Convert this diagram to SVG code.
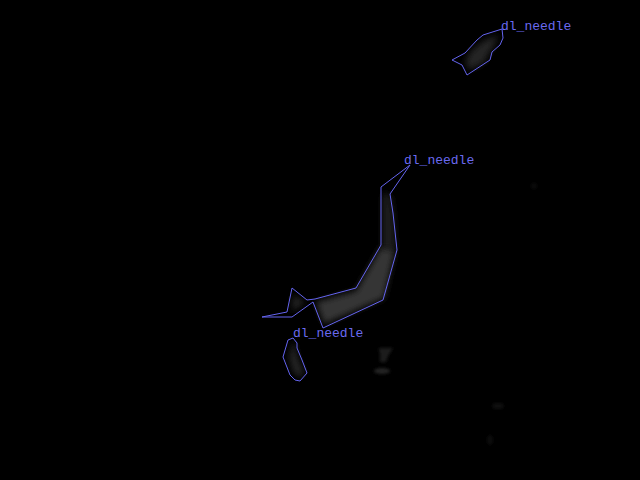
<svg xmlns="http://www.w3.org/2000/svg" width="640" height="480" viewBox="0 0 640 480">
<defs>
<filter id="blur" x="-30%" y="-30%" width="160%" height="160%"><feGaussianBlur stdDeviation="3"/></filter>
<filter id="blur2" x="-50%" y="-50%" width="200%" height="200%"><feGaussianBlur stdDeviation="1.8"/></filter>
<style>
.outline{fill:none;stroke:#6464f0;stroke-width:1}
.lbl{font-family:"Liberation Mono","DejaVu Sans Mono",monospace;font-size:13px;fill:#6a6af0}
.blob{fill:#3a3a3a}
</style>
</defs>
<rect width="640" height="480" fill="#000"/>
<g id="image">
<polygon class="blob" filter="url(#blur)" fill-opacity="0.9" points="395,250 384,298 324,324 316,302 356,291 381,247"/>
<polygon class="blob" filter="url(#blur)" fill-opacity="0.5" points="384,192 391,196 394,215 396,250 382,247 382,200"/>
<polygon class="blob" filter="url(#blur)" fill-opacity="0.6" points="293,295 305,302 292,312"/>
<polygon class="blob" filter="url(#blur)" fill-opacity="0.6" points="498,35 494,46 488,55 485,62 470,70 465,63 470,52 483,41"/>
<polygon class="blob" filter="url(#blur)" fill-opacity="0.6" points="293,341 289,357 293,372 300,378 304,372 298,358 295,345"/>
<polygon class="blob" filter="url(#blur2)" fill-opacity="0.5" points="379,348 393,348 388,356 386,362 380,362 380,355"/>
<ellipse class="blob" filter="url(#blur2)" fill-opacity="0.6" cx="382" cy="371" rx="8" ry="3"/>
<ellipse class="blob" filter="url(#blur2)" fill-opacity="0.25" cx="498" cy="406" rx="6" ry="3"/>
<ellipse class="blob" filter="url(#blur2)" fill-opacity="0.2" cx="490" cy="440" rx="3" ry="5"/>
<ellipse class="blob" filter="url(#blur2)" fill-opacity="0.15" cx="534" cy="186" rx="3" ry="3"/>
</g>
<g id="connectors"></g>
<g id="needle1">
<polygon class="outline" points="502,29 483,35 477,40 465,53 452,60 462,65 467,75 490,60 492,52 500,45 503,38"/>
<text class="lbl" x="501" y="30">dl_needle</text>
</g>
<g id="needle2">
<polygon class="outline" points="410,165 381,187 381,245 356,288 315,299 307,300 292,288 287,312 262,317 292,317 313,302 323,328 383,300 397,250 393,213 390,194"/>
<text class="lbl" x="404" y="164">dl_needle</text>
</g>
<g id="needle3">
<polygon class="outline" points="293,338 288,340 283,357 290,375 295,380 300,381 307,373 302,360 297,348 297,343"/>
<text class="lbl" x="293" y="337">dl_needle</text>
</g>
</svg>
